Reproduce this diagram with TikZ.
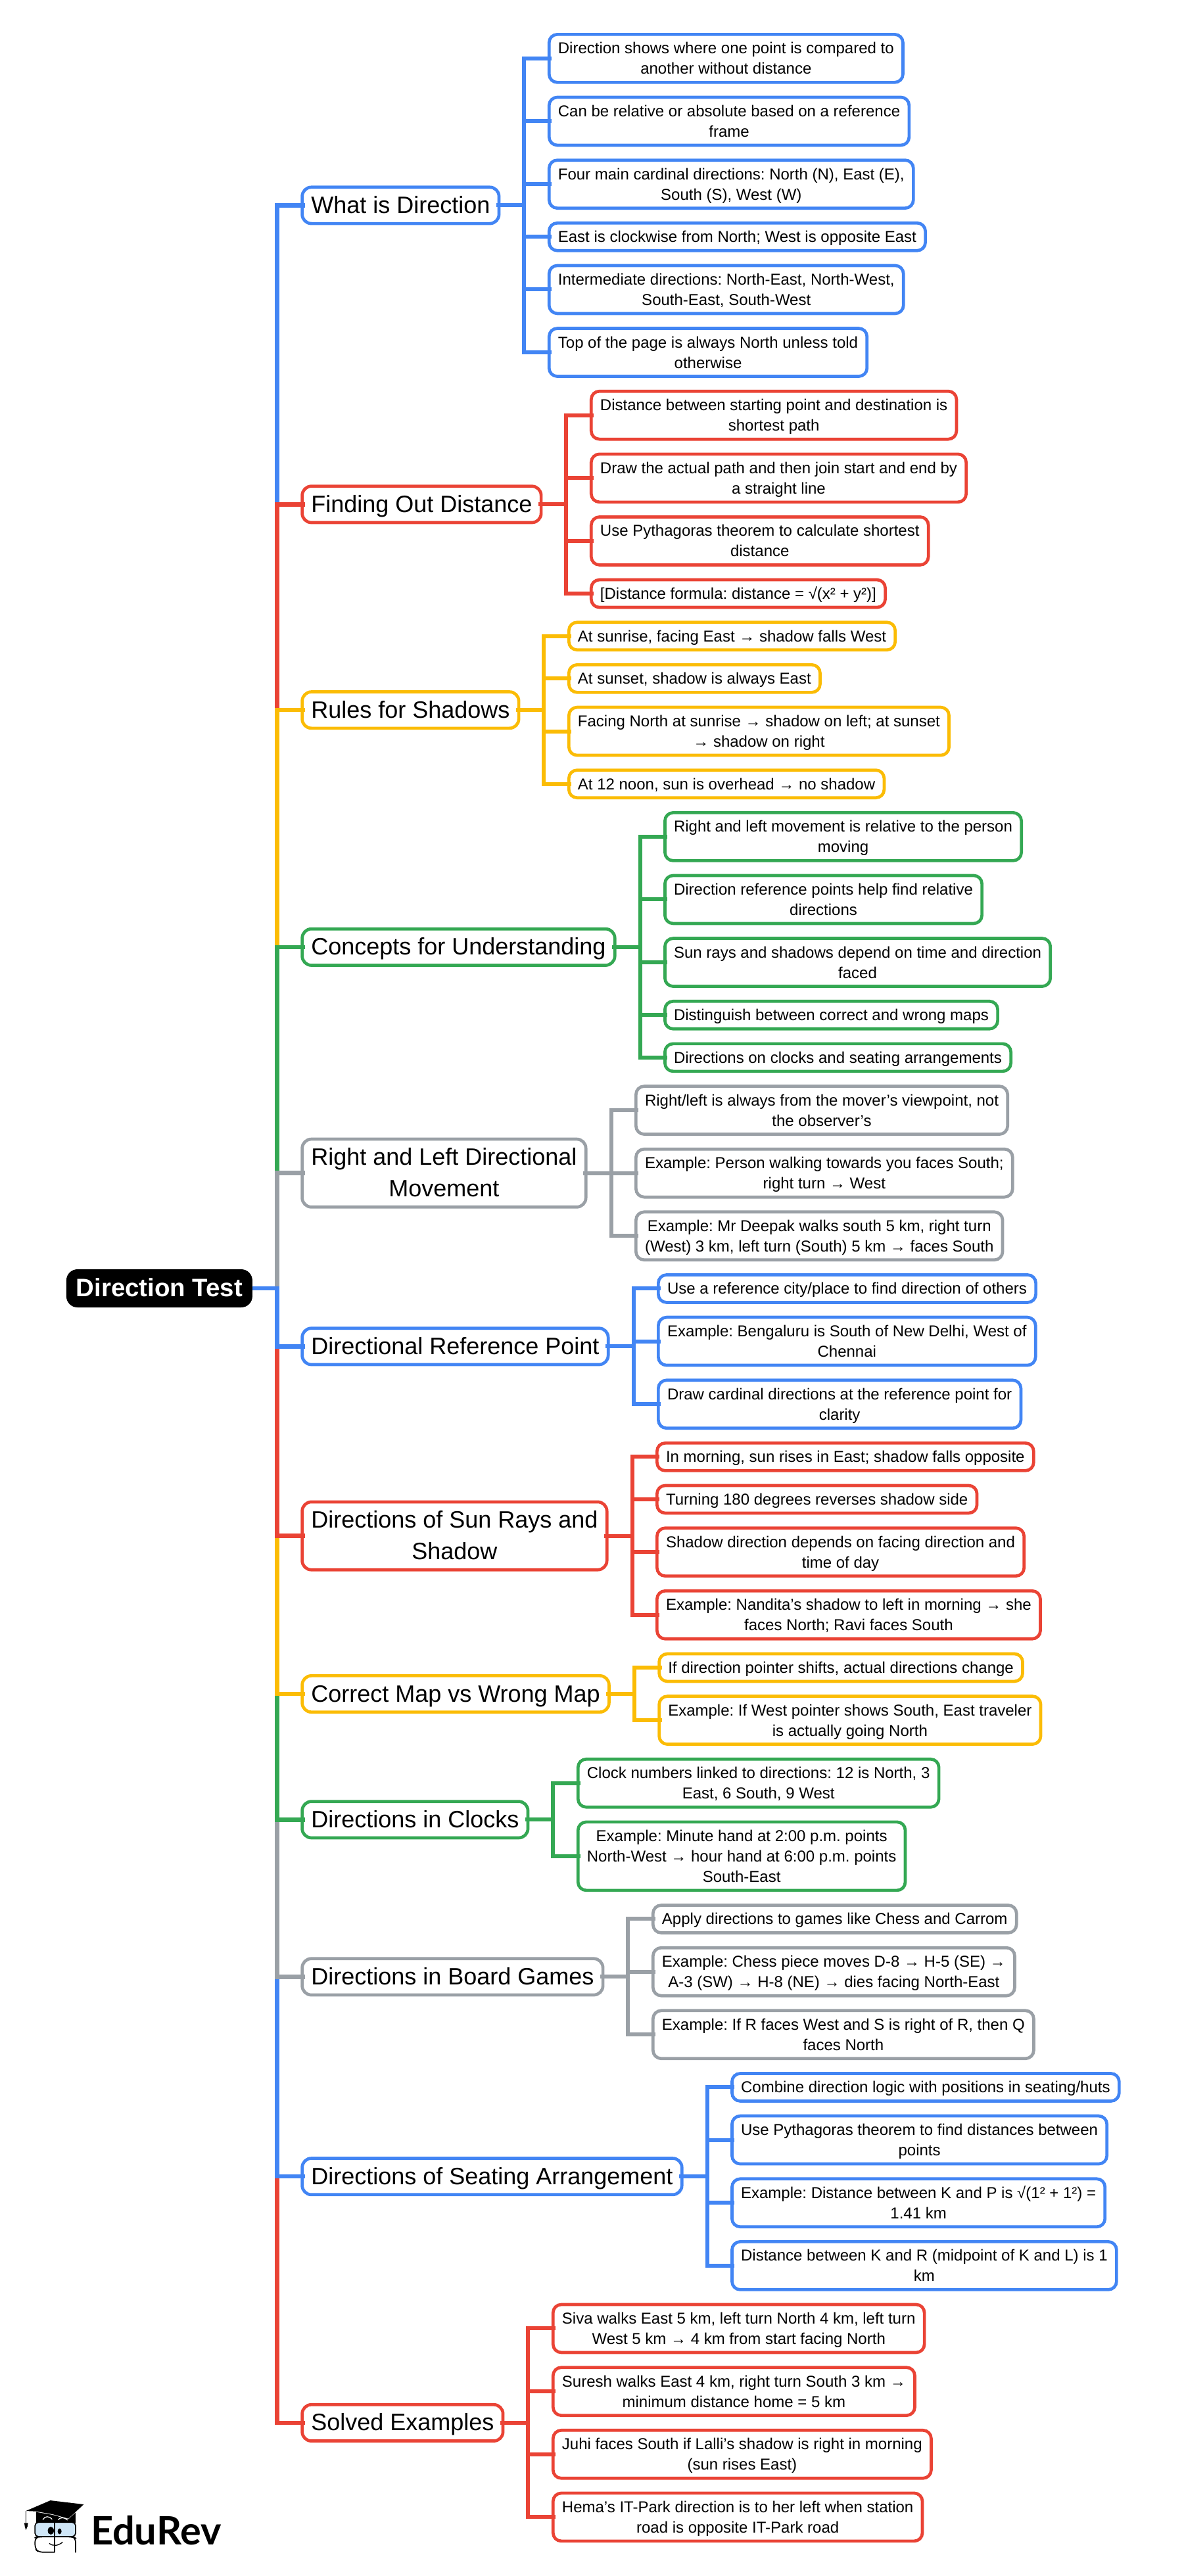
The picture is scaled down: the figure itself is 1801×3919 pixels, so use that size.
\documentclass[tikz,border=0pt]{standalone}
\usepackage{fontspec}
\setmainfont{Liberation Sans}
\newfontfamily\logofont{Lato}
\definecolor{cblue}{HTML}{4285F4}
\definecolor{cred}{HTML}{EA4335}
\definecolor{cyel}{HTML}{FBBC05}
\definecolor{cgrn}{HTML}{34A853}
\definecolor{cgry}{HTML}{9AA0A6}
\definecolor{glass}{HTML}{CFE6F7}
\tikzset{
  boxbase/.style={rectangle,line width=4.7pt,fill=white,inner xsep=13.65pt,inner ysep=0pt,outer sep=0pt,align=center,anchor=west},
  topicbox/.style={boxbase,rounded corners=14pt,font=\fontsize{36}{47.5}\selectfont},
  leafbox/.style={boxbase,rounded corners=12.5pt,font=\fontsize{24}{31}\selectfont},
  rootbox/.style={rectangle,rounded corners=17pt,fill=black,text=white,inner sep=0pt,outer sep=0pt,font=\fontsize{38.4}{46}\selectfont\bfseries},
  conn/.style={line width=6pt,line join=miter},
  trunk/.style={line width=6.5pt,line join=miter},
}
\newcommand{\tp}[5]{% name,colour,centre y,lines,text
  \node[topicbox,draw=#2,minimum height={60+48*(#4-1)-4.7}] (#1) at (459.65,{-#3}) {\rule{0pt}{33pt}#5\rule[-9pt]{0pt}{9pt}};}
\newcommand{\lf}[6]{% name,colour,spine,top y,lines,text
  \coordinate (yy) at (0,{-(#4+(46.7+31*(#5-1))/2)});
  \node[leafbox,draw=#2,minimum height={46.7+31*(#5-1)-4.7}] (#1) at ([xshift=37.85pt]#3|-yy) {\rule{0pt}{22pt}#6\rule[-5pt]{0pt}{5pt}};}
\begin{document}
\frenchspacing
\begin{tikzpicture}[x=1pt,y=1pt]
\useasboundingbox (0,0) rectangle (1801,-3919);
\node[rootbox,minimum width=283,minimum height=58] (root) at (242.4,-1960) {\rule{0pt}{30pt}Direction Test\rule[-6pt]{0pt}{6pt}};
\coordinate (tr) at (421.7,-1960);

% topics
\tp{t1}{cblue}{312.45}{1}{What is Direction}
\tp{t2}{cred}{767.35}{1}{Finding Out Distance}
\tp{t3}{cyel}{1080.2}{1}{Rules for Shadows}
\tp{t4}{cgrn}{1440.85}{1}{Concepts for Understanding}
\tp{t5}{cgry}{1784.65}{2}{Right and Left Directional\\Movement}
\tp{t6}{cblue}{2048.35}{1}{Directional Reference Point}
\tp{t7}{cred}{2336.55}{2}{Directions of Sun Rays and\\Shadow}
\tp{t8}{cyel}{2577}{1}{Correct Map vs Wrong Map}
\tp{t9}{cgrn}{2768.3}{1}{Directions in Clocks}
\tp{t10}{cgry}{3007.35}{1}{Directions in Board Games}
\tp{t11}{cblue}{3311.15}{1}{Directions of Seating Arrangement}
\tp{t12}{cred}{3685.9}{1}{Solved Examples}

% spines
\foreach \i in {1,...,12}{\coordinate (s\i) at ([xshift=38.35pt]t\i.east);}

% What is Direction
\lf{a1}{cblue}{s1}{50.0}{2}{Direction shows where one point is compared to\\another without distance}
\lf{a2}{cblue}{s1}{145.6}{2}{Can be relative or absolute based on a reference\\frame}
\lf{a3}{cblue}{s1}{241.3}{2}{Four main cardinal directions: North (N), East (E),\\South (S), West (W)}
\lf{a4}{cblue}{s1}{336.9}{1}{East is clockwise from North; West is opposite East}
\lf{a5}{cblue}{s1}{401.6}{2}{Intermediate directions: North-East, North-West,\\South-East, South-West}
\lf{a6}{cblue}{s1}{497.2}{2}{Top of the page is always North unless told\\otherwise}
% Finding
\lf{b1}{cred}{s2}{592.8}{2}{Distance between starting point and destination is\\shortest path}
\lf{b2}{cred}{s2}{688.5}{2}{Draw the actual path and then join start and end by\\a straight line}
\lf{b3}{cred}{s2}{784.1}{2}{Use Pythagoras theorem to calculate shortest\\distance}
\lf{b4}{cred}{s2}{879.7}{1}{[Distance formula: distance = √(x² + y²)]}
% Shadows
\lf{c1}{cyel}{s3}{944.4}{1}{At sunrise, facing East → shadow falls West}
\lf{c2}{cyel}{s3}{1009.0}{1}{At sunset, shadow is always East}
\lf{c3}{cyel}{s3}{1073.7}{2}{Facing North at sunrise → shadow on left; at sunset\\→ shadow on right}
\lf{c4}{cyel}{s3}{1169.3}{1}{At 12 noon, sun is overhead → no shadow}
% Concepts
\lf{d1}{cgrn}{s4}{1234.0}{2}{Right and left movement is relative to the person\\moving}
\lf{d2}{cgrn}{s4}{1329.6}{2}{Direction reference points help find relative\\directions}
\lf{d3}{cgrn}{s4}{1425.2}{2}{Sun rays and shadows depend on time and direction\\faced}
\lf{d4}{cgrn}{s4}{1520.9}{1}{Distinguish between correct and wrong maps}
\lf{d5}{cgrn}{s4}{1585.5}{1}{Directions on clocks and seating arrangements}
% Right left
\lf{e1}{cgry}{s5}{1650.2}{2}{Right/left is always from the mover’s viewpoint, not\\the observer’s}
\lf{e2}{cgry}{s5}{1745.8}{2}{Example: Person walking towards you faces South;\\right turn → West}
\lf{e3}{cgry}{s5}{1841.4}{2}{Example: Mr Deepak walks south 5 km, right turn\\(West) 3 km, left turn (South) 5 km → faces South}
% Reference
\lf{f1}{cblue}{s6}{1937.1}{1}{Use a reference city/place to find direction of others}
\lf{f2}{cblue}{s6}{2001.7}{2}{Example: Bengaluru is South of New Delhi, West of\\Chennai}
\lf{f3}{cblue}{s6}{2097.4}{2}{Draw cardinal directions at the reference point for\\clarity}
% Sun
\lf{g1}{cred}{s7}{2193.0}{1}{In morning, sun rises in East; shadow falls opposite}
\lf{g2}{cred}{s7}{2257.6}{1}{Turning 180 degrees reverses shadow side}
\lf{g3}{cred}{s7}{2322.3}{2}{Shadow direction depends on facing direction and\\time of day}
\lf{g4}{cred}{s7}{2417.9}{2}{Example: Nandita’s shadow to left in morning → she\\faces North; Ravi faces South}
% Map
\lf{h1}{cyel}{s8}{2513.6}{1}{If direction pointer shifts, actual directions change}
\lf{h2}{cyel}{s8}{2578.2}{2}{Example: If West pointer shows South, East traveler\\is actually going North}
% Clocks
\lf{i1}{cgrn}{s9}{2673.9}{2}{Clock numbers linked to directions: 12 is North, 3\\East, 6 South, 9 West}
\lf{i2}{cgrn}{s9}{2769.5}{3}{Example: Minute hand at 2:00 p.m. points\\North-West → hour hand at 6:00 p.m. points\\South-East}
% Board
\lf{j1}{cgry}{s10}{2896.1}{1}{Apply directions to games like Chess and Carrom}
\lf{j2}{cgry}{s10}{2960.8}{2}{Example: Chess piece moves D-8 → H-5 (SE) →\\A-3 (SW) → H-8 (NE) → dies facing North-East}
\lf{j3}{cgry}{s10}{3056.4}{2}{Example: If R faces West and S is right of R, then Q\\faces North}
% Seating
\lf{k1}{cblue}{s11}{3152.1}{1}{Combine direction logic with positions in seating/huts}
\lf{k2}{cblue}{s11}{3216.7}{2}{Use Pythagoras theorem to find distances between\\points}
\lf{k3}{cblue}{s11}{3312.4}{2}{Example: Distance between K and P is √(1² + 1²) =\\1.41 km}
\lf{k4}{cblue}{s11}{3408.0}{2}{Distance between K and R (midpoint of K and L) is 1\\km}
% Solved
\lf{l1}{cred}{s12}{3503.6}{2}{Siva walks East 5 km, left turn North 4 km, left turn\\West 5 km → 4 km from start facing North}
\lf{l2}{cred}{s12}{3599.3}{2}{Suresh walks East 4 km, right turn South 3 km →\\minimum distance home = 5 km}
\lf{l3}{cred}{s12}{3694.9}{2}{Juhi faces South if Lalli’s shadow is right in morning\\(sun rises East)}
\lf{l4}{cred}{s12}{3790.5}{2}{Hema’s IT-Park direction is to her left when station\\road is opposite IT-Park road}

% trunk, farthest first so that nearer segments lie on top
\foreach \t/\c in {t1/cblue,t12/cred,t2/cred,t11/cblue,t3/cyel,t10/cgry,t4/cgrn,t9/cgrn,t5/cgry,t8/cyel,t7/cred,t6/cblue}{
  \draw[trunk,\c] (root.east) -- (tr) |- ([xshift=4pt]\t.west);
}
% children connectors
\foreach \t/\s/\c/\list in {%
  t1/s1/cblue/{a1,a2,a3,a4,a5,a6},
  t2/s2/cred/{b1,b2,b3,b4},
  t3/s3/cyel/{c1,c2,c3,c4},
  t4/s4/cgrn/{d1,d2,d3,d4,d5},
  t5/s5/cgry/{e1,e2,e3},
  t6/s6/cblue/{f1,f2,f3},
  t7/s7/cred/{g1,g2,g3,g4},
  t8/s8/cyel/{h1,h2},
  t9/s9/cgrn/{i1,i2},
  t10/s10/cgry/{j1,j2,j3},
  t11/s11/cblue/{k1,k2,k3,k4},
  t12/s12/cred/{l1,l2,l3,l4}}{
  \foreach \n in \list {
    \draw[conn,\c] ([xshift=-4pt]\t.east) -- (\s) |- ([xshift=4pt]\n.west);
  }
}
% logo
\node[inner sep=0pt,outer sep=0pt,anchor=base west,font=\logofont\fontsize{59.5}{59.5}\selectfont\bfseries] (logo) at (138,-3871) {EduRev};
\begin{scope}[shift={(20,-3790)},x=0.3333pt,y=-0.3333pt]
  \fill[black] (58,90) -- (170,42) -- (322,60) -- (252,125) -- (180,105) -- (105,92) -- cycle;
  \fill[black] (105,95) -- (180,108) -- (252,128) -- (285,97) -- (285,145) -- (105,145) -- cycle;
  \draw[white,line width=1.2pt] (135,130) .. controls (145,112) and (165,112) .. (178,128);
  \draw[white,line width=1.2pt] (205,130) .. controls (215,118) and (235,118) .. (248,132);
  \draw[black,line width=1.3pt] (58,90) -- (58,145);
  \fill[black] (51,145) -- (68,145) -- (66,160) -- (58,177) -- (53,160) -- cycle;
  \draw[black,line width=1.7pt,fill=glass,rounded corners=5pt] (100,142) rectangle (285,207);
  \draw[black,line width=1.7pt,rounded corners=6pt] (190,278) -- (115,278) -- (100,262) -- (100,212) -- (115,208) -- (190,208);
  \draw[black,line width=1.7pt,rounded corners=6pt] (190,208) -- (272,208) -- (285,214) -- (285,280);
  \draw[black,line width=1.7pt] (190,140) -- (190,280);
  \draw[black,line width=1.3pt] (165,238) .. controls (182,252) and (205,250) .. (226,232);
  \fill[black] (172,180) ellipse [x radius=14,y radius=18];
  \fill[black] (212,183) ellipse [x radius=9,y radius=13];
\end{scope}
\end{tikzpicture}
\end{document}
